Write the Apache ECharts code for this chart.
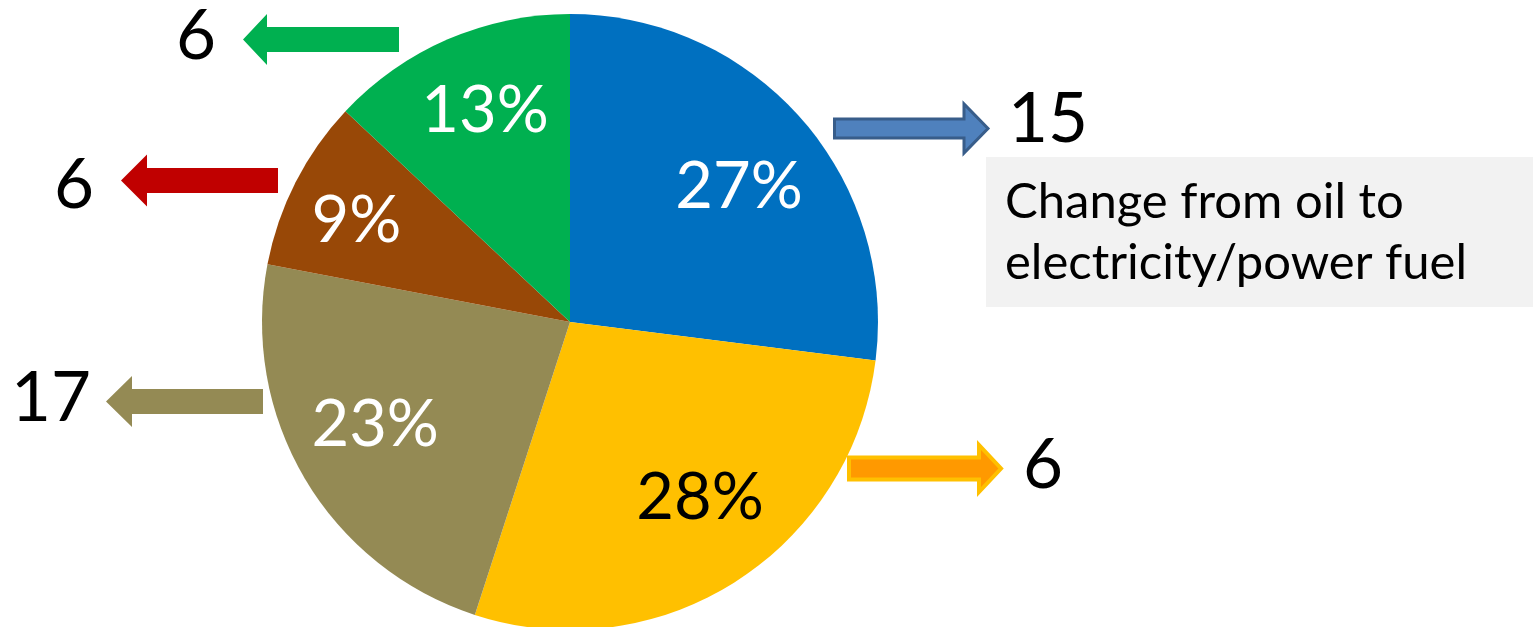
<!DOCTYPE html>
<html>
<head>
<meta charset="utf-8">
<style>
  html, body { margin: 0; padding: 0; background: #ffffff; }
  #chart { width: 1533px; height: 627px; }
</style>
<script src="https://cdn.jsdelivr.net/npm/echarts@6/dist/echarts.min.js"></script>
</head>
<body>
<div id="chart"></div>
<script>
// Share of each segment, clockwise from 12 o'clock
const segmentNames = ['Blue', 'Yellow', 'Olive', 'Brown', 'Green'];
const segmentShares = [27, 28, 23, 9, 13];
const segmentColors = ['#0070C0', '#FFC000', '#948A54', '#984807', '#00B050'];
const labelColors = ['#ffffff', '#000000', '#ffffff', '#ffffff', '#ffffff'];

// Change figures shown beside each segment's arrow (same order as segments)
const changeValues = [15, 6, 17, 6, 6];
const noteText = ['Change from oil to', 'electricity/power fuel'];

const FONT = 'Lato, "Open Sans", sans-serif';

// Fine placement of the percentage labels relative to the ring mid-radius
const labelNudge = [[1, 13], [10, -13], [-2, -11], [-14, 1], [4, -5]];

// Arrow geometry: direction, tail x, head-base x, tip x, centre y, shaft half-height, head half-height
const arrows = [
  { dir: 'right', tail: 834.5, base: 964, tip: 988, cy: 128.5, h: 9.5, H: 24.5, fill: '#4F81BD', stroke: '#385D8A', lw: 3, textX: 1008, textY: 120 },
  { dir: 'right', tail: 849, base: 979, tip: 1001, cy: 468.5, h: 11, H: 23.5, fill: '#FF9900', stroke: '#FFC000', lw: 4, textX: 1023, textY: 466 },
  { dir: 'left', tail: 263, base: 132, tip: 106, cy: 401.5, h: 12.5, H: 25.5, fill: '#948A54', textX: 91, textY: 399 },
  { dir: 'left', tail: 278, base: 147, tip: 121, cy: 180.5, h: 12.5, H: 26, fill: '#C00000', textX: 94, textY: 186 },
  { dir: 'left', tail: 399, base: 267, tip: 243, cy: 39.5, h: 12.5, H: 25.5, fill: '#00B050', textX: 216, textY: 37 }
];

function arrowPoints(a) {
  return [
    [a.tail, a.cy - a.h], [a.base, a.cy - a.h], [a.base, a.cy - a.H],
    [a.tip, a.cy], [a.base, a.cy + a.H], [a.base, a.cy + a.h], [a.tail, a.cy + a.h]
  ];
}

const graphics = [];
arrows.forEach(function (a, i) {
  graphics.push({
    type: 'polygon',
    shape: { points: arrowPoints(a) },
    style: { fill: a.fill, stroke: a.stroke || null, lineWidth: a.lw || 0, lineJoin: 'miter' },
    silent: true
  });
  graphics.push({
    type: 'text',
    x: a.textX, y: a.textY,
    style: {
      text: String(changeValues[i]),
      font: '69px ' + FONT,
      fill: '#000000',
      align: a.dir === 'right' ? 'left' : 'right',
      verticalAlign: 'middle'
    },
    silent: true
  });
});

// Note box beside the blue segment
graphics.push({
  type: 'rect',
  shape: { x: 986, y: 157, width: 547, height: 150 },
  style: { fill: '#F2F2F2' },
  silent: true
});
noteText.forEach(function (line, i) {
  graphics.push({
    type: 'text',
    x: 1005, y: 202 + i * 61,
    style: { text: line, font: '49px ' + FONT, fill: '#000000', align: 'left', verticalAlign: 'middle' },
    silent: true
  });
});

const pieData = segmentNames.map(function (n, i) {
  return { name: n, value: segmentShares[i], itemStyle: { color: segmentColors[i] } };
});
const labelData = segmentNames.map(function (n, i) {
  return {
    name: n, value: segmentShares[i],
    label: { color: labelColors[i], offset: labelNudge[i] }
  };
});

const chart = echarts.init(document.getElementById('chart'), null, { renderer: 'canvas' });
chart.setOption({
  animation: false,
  backgroundColor: '#ffffff',
  series: [
    {
      type: 'pie',
      center: [570, 322],
      radius: [0, 308],
      startAngle: 90,
      clockwise: true,
      silent: true,
      label: { show: false },
      labelLine: { show: false },
      data: pieData
    },
    {
      // transparent ring whose mid-radius carries the percentage labels
      type: 'pie',
      center: [570, 322],
      radius: [134, 308],
      startAngle: 90,
      clockwise: true,
      silent: true,
      itemStyle: { color: 'rgba(0,0,0,0)' },
      label: {
        show: true,
        position: 'inside',
        formatter: '{c}%',
        fontFamily: FONT,
        fontSize: 65
      },
      labelLine: { show: false },
      data: labelData
    }
  ],
  graphic: { elements: graphics }
});
</script>
</body>
</html>
